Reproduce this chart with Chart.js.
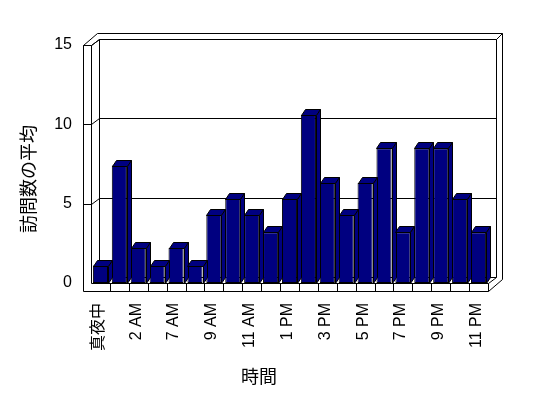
<!DOCTYPE html>
<html>
<head>
<meta charset="utf-8">
<script src="https://cdn.jsdelivr.net/npm/chart.js@4.4.1/dist/chart.umd.min.js"></script>
<style>html,body{margin:0;padding:0;background:#fff;}</style>
</head>
<body>
<canvas id="myChart" width="548" height="398"></canvas>
<script>
// data
const hours = ['真夜中', '1 AM', '2 AM', '6 AM', '7 AM', '8 AM', '9 AM', '10 AM', '11 AM', '12 PM',
  '1 PM', '2 PM', '3 PM', '4 PM', '5 PM', '6 PM', '7 PM', '8 PM', '9 PM', '10 PM', '11 PM'];
const visits = [1.1, 7.4, 2.2, 1.1, 2.2, 1.1, 4.3, 5.3, 4.3, 3.2, 5.3,
  10.6, 6.3, 4.3, 6.3, 8.5, 3.2, 8.5, 8.5, 5.3, 3.2];
const yTicks = [0, 5, 10, 15];
const xTitle = '時間';
const yTitle = '訪問数の平均';

const NAVY = '#000080';
const DX = 8, DY = 6;     // wall depth
const BDX = 4, BDY = 6;   // bar depth

function px(v) { return Math.round(v) + 0.5; }

function path(ctx, pts, fill) {
  ctx.beginPath();
  pts.forEach(([a, b], i) => i ? ctx.lineTo(px(a), px(b)) : ctx.moveTo(px(a), px(b)));
  if (fill) { ctx.closePath(); ctx.fill(); }
  ctx.stroke();
}

// fake 3d walls, floor and bar faces
const box3d = {
  id: 'box3d',
  beforeDatasetsDraw(chart) {
    const { ctx, chartArea: a, scales: { x, y } } = chart;
    const L = a.left, R = a.right, T = a.top, B = a.bottom;
    ctx.save();
    ctx.strokeStyle = '#000';
    ctx.lineWidth = 1;
    // back wall
    path(ctx, [[L + DX, B - DY], [L + DX, T - DY], [R + DX, T - DY], [R + DX, B - DY]]);
    path(ctx, [[L - 8, T], [L + DX - 2, T - 2 * DY], [R + DX + 6, T - 2 * DY], [R + DX + 6, B - DY + 2]]);
    path(ctx, [[R + DX, T - DY], [R + DX + 6, T - 2 * DY]]);
    // left wall
    path(ctx, [[L - 8, T], [L, T], [L + DX, T - DY]]);
    path(ctx, [[L, T], [L, B], [R, B], [R + DX, B - DY]]);
    // floor
    path(ctx, [[L - 8, T], [L - 8, B + 8], [R, B + 8], [R, B]]);
    path(ctx, [[R, B + 8], [R + DX + 6, B - DY + 2]]);
    path(ctx, [[L + DX, B - DY], [R + DX, B - DY]]);
    // grid lines with ticks
    yTicks.forEach(v => {
      if (v === 0) return;
      const yy = y.getPixelForValue(v);
      path(ctx, [[L - 8, yy], [L, yy], [L + DX, yy - DY], [R + DX, yy - DY]]);
    });
    // category dividers on the floor edge
    for (let i = 1; i < hours.length; i++) {
      const xx = (x.getPixelForValue(i - 1) + x.getPixelForValue(i)) / 2;
      path(ctx, [[xx, B], [xx, B + 8]]);
    }
    ctx.restore();
  },
  afterDatasetsDraw(chart) {
    const { ctx } = chart;
    ctx.save();
    ctx.strokeStyle = '#000';
    ctx.fillStyle = NAVY;
    ctx.lineWidth = 1;
    chart.getDatasetMeta(0).data.forEach(bar => {
      const { x, y, base, width } = bar.getProps(['x', 'y', 'base', 'width'], true);
      const l = x - width / 2, r = x + width / 2;
      path(ctx, [[l, y], [l + BDX, y - BDY], [r + BDX, y - BDY], [r, y]], true);
      path(ctx, [[r, y], [r + BDX, y - BDY], [r + BDX, base - BDY], [r, base]], true);
    });
    ctx.restore();
  },
  afterDraw(chart) {
    const { ctx } = chart;
    ctx.save();
    ctx.fillStyle = '#000';
    ctx.font = "18px 'Noto Sans CJK JP'";
    ctx.textAlign = 'center';
    ctx.textBaseline = 'middle';
    ctx.fillText(xTitle, 259, 376);
    ctx.translate(28, 179);
    ctx.rotate(-Math.PI / 2);
    ctx.fillText(yTitle, 0, 0);
    ctx.restore();
  }
};

Chart.defaults.font.family = "'Liberation Sans', 'Noto Sans CJK JP', sans-serif";
Chart.defaults.color = '#000';

const myChart = new Chart(document.getElementById('myChart'), {
  type: 'bar',
  data: {
    labels: hours,
    datasets: [{
      data: visits,
      backgroundColor: NAVY,
      borderColor: '#000',
      borderWidth: 1,
      borderSkipped: false,
      barPercentage: 0.8,
      categoryPercentage: 1
    }]
  },
  options: {
    responsive: false,
    animation: false,
    devicePixelRatio: 1,
    layout: { padding: { top: 45, right: 60, left: 0, bottom: 0 } },
    plugins: { legend: { display: false }, tooltip: { enabled: false } },
    scales: {
      x: {
        grid: { display: false, drawTicks: false },
        border: { display: false },
        ticks: {
          autoSkip: false, maxRotation: 90, minRotation: 90,
          padding: 20, labelOffset: -2,
          font: { size: 16 },
          callback: (v, i) => i % 2 === 0 ? hours[i] : ''
        },
        afterFit(s) { s.height = 115; }
      },
      y: {
        min: 0, max: 15,
        grid: { display: false, drawTicks: false },
        border: { display: false },
        ticks: { stepSize: 5, padding: 19, font: { size: 16 } },
        afterFit(s) { s.width = 91; }
      }
    }
  },
  plugins: [box3d]
});
</script>
</body>
</html>
